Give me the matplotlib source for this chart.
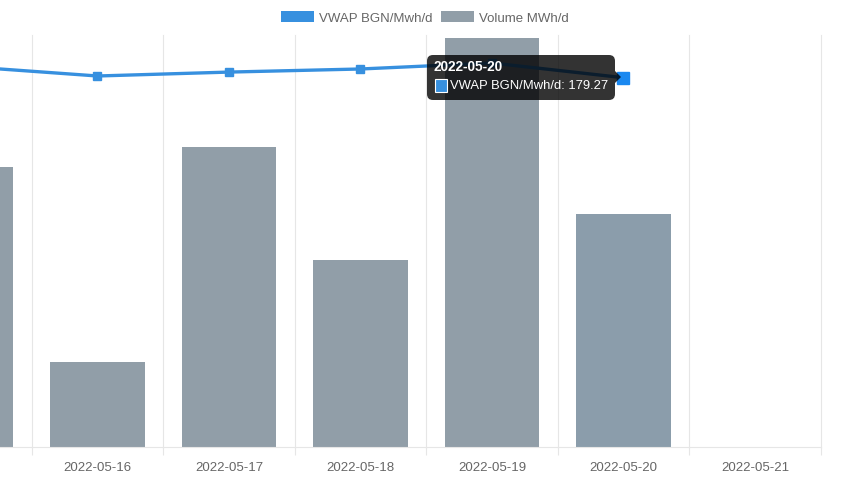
import matplotlib
matplotlib.use("Agg")
from matplotlib import pyplot as plt
from matplotlib.patches import Patch, FancyBboxPatch, Polygon, Rectangle
import numpy as np

dates = ["2022-05-15", "2022-05-16", "2022-05-17", "2022-05-18",
         "2022-05-19", "2022-05-20", "2022-05-21"]
vwap = [184.7, 180.1, 182.0, 183.5, 186.4, 179.27, np.nan]
volume = [34000, 10300, 36400, 22700, 49650, 28300, np.nan]
hover_idx = 5

line_color = "#3790df"
bar_color = "#919ea8"
bar_hover = "#8b9dab"
grid_color = "#e6e6e6"
text_color = "#666666"

plt.rcParams["font.family"] = ["Liberation Sans", "DejaVu Sans"]

W, H = 850, 480
fig = plt.figure(figsize=(8.5, 4.8), dpi=100)

# plot area: bottom at 447px, top at 35px, right edge at last category boundary
left_px, right_px, top_px, bot_px = 0, 820.75, 35, 447
ax = fig.add_axes([left_px / W, 1 - bot_px / H, (right_px - left_px) / W,
                   (bot_px - top_px) / H])
x = np.arange(len(dates))
colors = [bar_hover if i == hover_idx else bar_color for i in x]
ax.bar(x, volume, width=0.72, color=colors, zorder=2)
ax.set_ylim(0, 50000)

ax.set_xticks(x)
ax.set_xticklabels(dates, fontsize=9.5, color=text_color)
ax.set_xticks(x + 0.5, minor=True)
ax.tick_params(axis="x", which="major", length=0, pad=10.5)
ax.tick_params(axis="x", which="minor", length=5.8, width=0.8, color=grid_color)
ax.grid(axis="x", which="minor", color=grid_color, linewidth=0.8, zorder=0)
ax.set_yticks([])
for s in ["top", "left", "right"]:
    ax.spines[s].set_visible(False)
ax.spines["bottom"].set_color(grid_color)
ax.spines["bottom"].set_linewidth(0.8)

ax2 = ax.twinx()
ax2.set_ylim(0, 200)
ax2.set_yticks([])
for s in ax2.spines.values():
    s.set_visible(False)
ax2.plot(x, vwap, color=line_color, linewidth=2.4, marker="s",
         markersize=6, zorder=3)
ax2.plot([x[hover_idx]], [vwap[hover_idx]], marker="s", markersize=9,
         color="#1a88f0", linestyle="none", zorder=4)

# chart is scrolled: first category is partly off the left edge
ax.set_xlim(0.2586, 6.5)
fig.canvas.draw()
for tick in ax.xaxis.get_minor_ticks():
    tick.gridline.set_clip_on(False)

fig.legend(handles=[Patch(facecolor=line_color, label="VWAP BGN/Mwh/d"),
                    Patch(facecolor=bar_color, label="Volume MWh/d")],
           loc="center", bbox_to_anchor=(0.5, 1 - 18 / H), ncol=2,
           frameon=False, fontsize=9.5, labelcolor=text_color,
           handlelength=2.5, handleheight=0.9, handletextpad=0.4,
           columnspacing=0.6)

# tooltip overlay in pixel coordinates
ov = fig.add_axes([0, 0, 1, 1], facecolor="none")
ov.set_xlim(0, W)
ov.set_ylim(H, 0)
ov.axis("off")
ov.add_patch(FancyBboxPatch((427 + 6, 55 + 6), 188 - 12, 45 - 12,
                            boxstyle="round,pad=6", facecolor="black",
                            alpha=0.8, edgecolor="none", zorder=5))
ov.add_patch(Polygon([[615, 71], [621, 77], [615, 83]], closed=True,
                     facecolor="black", alpha=0.8, edgecolor="none", zorder=5))
ov.text(434, 67, dates[hover_idx], color="white", fontsize=9.8,
        fontweight="bold", va="center", ha="left", zorder=6)
ov.add_patch(Rectangle((435, 79), 12, 13, facecolor=line_color,
                       edgecolor="white", linewidth=0.8, zorder=6))
ov.text(450, 86, f"VWAP BGN/Mwh/d: {vwap[hover_idx]:.2f}", color="white",
        fontsize=9.35, va="center", ha="left", zorder=6)

fig.savefig("out.png", dpi=100)
